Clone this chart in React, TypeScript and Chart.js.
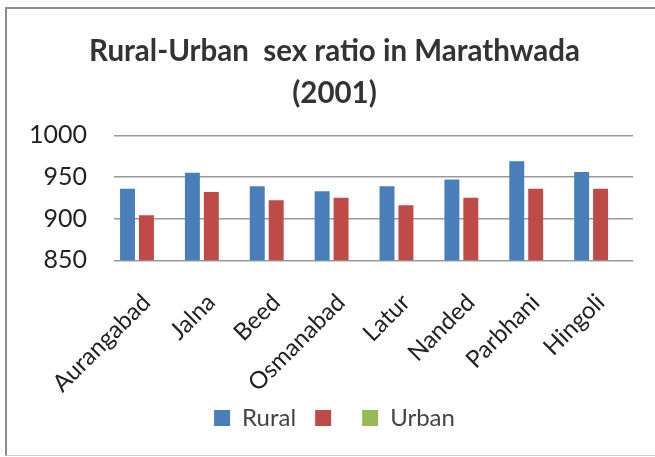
import React, { useEffect, useRef } from "react";
import { Chart, registerables } from "chart.js";

Chart.register(...registerables);

const districts = ["Aurangabad", "Jalna", "Beed", "Osmanabad", "Latur", "Nanded", "Parbhani", "Hingoli"];
const ruralValues = [936, 955, 939, 933, 939, 947, 969, 956];
const urbanValues = [904, 932, 922, 925, 916, 925, 936, 936];
const emptyValues: (number | null)[] = [null, null, null, null, null, null, null, null];
const titleLines = ["Rural-Urban  sex ratio in Marathwada", "(2001)"];
const seriesLabels = ["Rural", "", "Urban"];

const FONT = "Lato, 'Open Sans', sans-serif";

export default function App() {
  const ref = useRef<HTMLCanvasElement | null>(null);
  useEffect(() => {
    if (!ref.current) return;
    const chart = new Chart(ref.current, {
      type: "bar",
      data: {
        labels: districts,
        datasets: [
          { label: seriesLabels[0], data: ruralValues, backgroundColor: "#4A7EBB" },
          { label: seriesLabels[1], data: urbanValues, backgroundColor: "#BE4B48" },
          { label: seriesLabels[2], data: emptyValues, backgroundColor: "#98B954" },
        ],
      },
      options: {
        animation: false,
        responsive: false,
        maintainAspectRatio: false,
        layout: { padding: { left: 26, right: 12, top: 8, bottom: 17 } },
        datasets: { bar: { categoryPercentage: 0.875, barPercentage: 0.79 } },
        plugins: {
          title: {
            display: true,
            text: titleLines,
            color: "#333333",
            font: { family: FONT, size: 29.5, weight: "bold", lineHeight: 1.43 },
            padding: { top: 22, bottom: 21 },
          },
          legend: {
            position: "bottom",
            labels: {
              color: "#444444",
              font: { family: FONT, size: 24 },
              boxWidth: 16,
              boxHeight: 16,
              padding: 19,
            },
          },
          tooltip: { enabled: false },
        },
        scales: {
          x: {
            grid: { display: false },
            border: { display: false },
            afterFit: (s: any) => {
              s.paddingLeft = 0;
              s.paddingRight = 22;
              s.height = s.height - 31;
              s._computeLabelArea = () => undefined;
            },
            ticks: {
              color: "#222222",
              font: { family: FONT, size: 24 },
              minRotation: 45,
              maxRotation: 45,
              padding: 20,
            },
          },
          y: {
            min: 850,
            max: 1000,
            afterFit: (s: any) => {
              s.width = s.width - 24;
            },
            ticks: {
              stepSize: 50,
              color: "#222222",
              font: { family: FONT, size: 25 },
              padding: 27,
              callback: (v: any) => String(v),
            },
            grid: { color: "#9a9a9a", lineWidth: 1.5, drawTicks: false },
            border: { display: false },
          },
        },
      },
    });
    return () => chart.destroy();
  }, []);

  return (
    <div style={{ position: "fixed", left: 0, top: 0, width: 655, height: 457, background: "#fff", overflow: "hidden" }}>
      <canvas ref={ref} width={655} height={457} style={{ position: "absolute", left: 0, top: 0, width: 655, height: 457 }} />
      <div
        style={{
          position: "absolute",
          left: 5,
          top: 7,
          width: 700,
          height: 446,
          borderLeft: "2px solid #8c8c8c",
          borderTop: "2px solid #8c8c8c",
          borderBottom: "1px solid #d0d0d0",
          pointerEvents: "none",
        }}
      />
    </div>
  );
}
